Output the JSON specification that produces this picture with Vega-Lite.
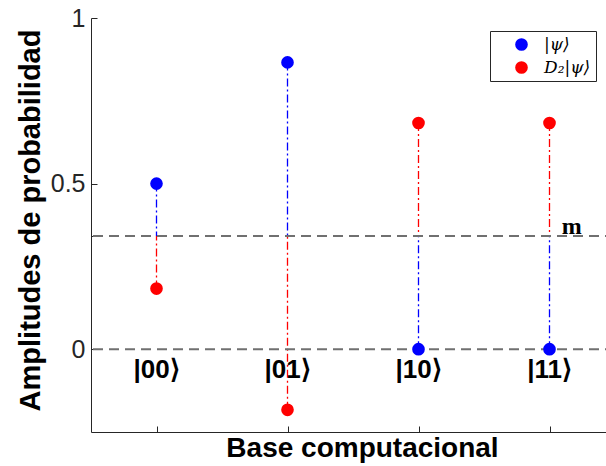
{
  "$schema": "https://vega.github.io/schema/vega-lite/v6.json",
  "width": 524,
  "height": 414,
  "autosize": {"type": "none"},
  "padding": {"left": 91, "top": 18, "right": 0, "bottom": 34},
  "background": "white",
  "config": {"view": {"stroke": null}},
  "datasets": {
    "pts": [
      {"x": 1, "series": "|ψ⟩", "value": 0.5},
      {"x": 2, "series": "|ψ⟩", "value": 0.866},
      {"x": 3, "series": "|ψ⟩", "value": 0},
      {"x": 4, "series": "|ψ⟩", "value": 0},
      {"x": 1, "series": "D₂|ψ⟩", "value": 0.183},
      {"x": 2, "series": "D₂|ψ⟩", "value": -0.183},
      {"x": 3, "series": "D₂|ψ⟩", "value": 0.683},
      {"x": 4, "series": "D₂|ψ⟩", "value": 0.683}
    ],
    "hlines": [{"y": 0}, {"y": 0.3415}],
    "labels": [
      {"x": 1, "y": -0.062, "text": "|00⟩"},
      {"x": 2, "y": -0.062, "text": "|01⟩"},
      {"x": 3, "y": -0.062, "text": "|10⟩"},
      {"x": 4, "y": -0.062, "text": "|11⟩"}
    ],
    "mlabel": [{"x": 4.17, "y": 0.37, "text": "m"}]
  },
  "resolve": {"scale": {"color": "shared"}, "legend": {"color": "shared"}},
  "layer": [
    {
      "data": {"name": "pts"},
      "mark": {"type": "rule", "strokeWidth": 1.3, "strokeDash": [8, 3, 2, 3]},
      "encoding": {
        "x": {"field": "x", "type": "quantitative", "scale": {"domain": [0.5, 4.5], "nice": false, "zero": false},
          "axis": {"values": [1, 2, 3, 4], "labels": false, "tickSize": -6, "tickColor": "#262626", "domainColor": "#262626", "grid": false,
            "title": "Base computacional", "titleFont": "Liberation Sans", "titleFontSize": 28, "titleFontWeight": "bold", "titleColor": "black", "titleX": 271, "titlePadding": 2}},
        "y": {"field": "value", "type": "quantitative", "scale": {"domain": [-0.25, 1], "nice": false, "zero": false},
          "axis": {"values": [0, 0.3415, 0.5, 1], "labelExpr": "datum.value > 0.3 && datum.value < 0.4 ? '' : format(datum.value, '~g')",
            "tickSize": -6, "tickColor": "#262626", "domainColor": "#262626", "grid": false, "labelFont": "Liberation Sans", "labelFontSize": 25, "labelColor": "#262626", "labelPadding": 12,
            "title": "Amplitudes de probabilidad", "titleFont": "Liberation Sans", "titleFontSize": 29, "titleFontWeight": "bold", "titleColor": "black",
            "titleX": -61, "titleY": 202, "titleAngle": 270, "titleAlign": "center", "titleBaseline": "middle"}},
        "y2": {"datum": 0.3415},
        "color": {"field": "series", "type": "nominal", "scale": {"domain": ["|ψ⟩", "D₂|ψ⟩"], "range": ["#0000FF", "#FF0000"]}}
      }
    },
    {
      "data": {"name": "hlines"},
      "mark": {"type": "rule", "color": "#707070", "strokeWidth": 2, "strokeDash": [10, 6]},
      "encoding": {"y": {"field": "y", "type": "quantitative"}}
    },
    {
      "data": {"name": "pts"},
      "mark": {"type": "point", "filled": true, "opacity": 1, "size": 160},
      "encoding": {
        "x": {"field": "x", "type": "quantitative"},
        "y": {"field": "value", "type": "quantitative"},
        "color": {"field": "series", "type": "nominal", "scale": {"domain": ["|ψ⟩", "D₂|ψ⟩"], "range": ["#0000FF", "#FF0000"]},
          "legend": {"title": null, "orient": "none", "legendX": 399, "legendY": 13, "strokeColor": "#262626", "fillColor": "white", "padding": 5,
            "labelFont": "DejaVu Serif", "labelFontStyle": "italic", "labelFontSize": 17, "labelColor": "black", "symbolSize": 160, "symbolType": "circle", "symbolStrokeWidth": 0, "symbolOpacity": 1,
            "symbolOffset": 18, "rowPadding": 5, "labelOffset": 14}}
      }
    },
    {
      "data": {"name": "labels"},
      "mark": {"type": "text", "font": "Liberation Sans", "fontWeight": "bold", "fontSize": 26, "color": "black", "baseline": "middle", "align": "center"},
      "encoding": {
        "x": {"field": "x", "type": "quantitative"},
        "y": {"field": "y", "type": "quantitative"},
        "text": {"field": "text"}
      }
    },
    {
      "data": {"name": "mlabel"},
      "mark": {"type": "text", "font": "Liberation Serif", "fontWeight": "bold", "fontSize": 24, "color": "black", "baseline": "middle", "align": "center"},
      "encoding": {
        "x": {"field": "x", "type": "quantitative"},
        "y": {"field": "y", "type": "quantitative"},
        "text": {"field": "text"}
      }
    }
  ]
}
